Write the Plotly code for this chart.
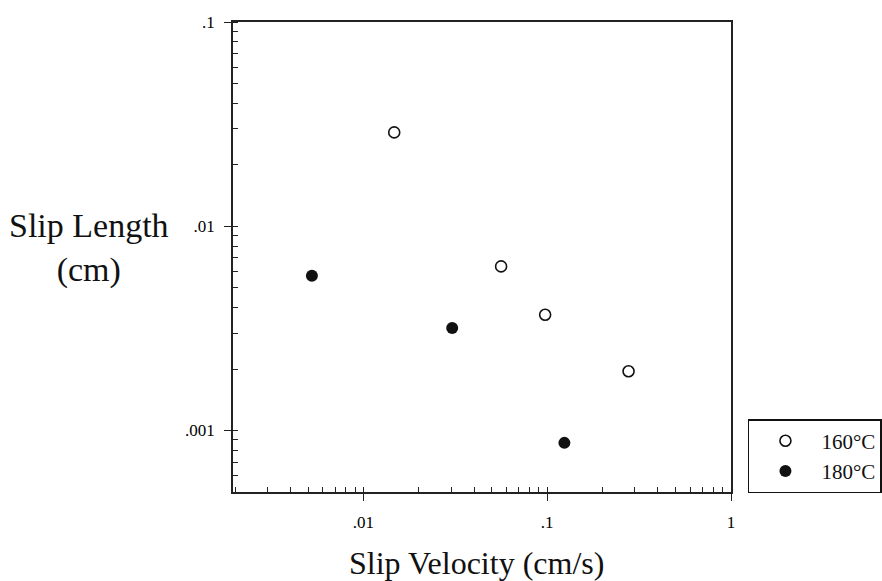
import plotly.graph_objects as go

# Slip length vs. slip velocity at two melt temperatures
velocity_160 = [0.0147, 0.0561, 0.0974, 0.277]
slip_len_160 = [0.0288, 0.00636, 0.00369, 0.00195]

velocity_180 = [0.00524, 0.0304, 0.124]
slip_len_180 = [0.00572, 0.00318, 0.00087]

series_names = ["160°C", "180°C"]

x_tickvals = [0.01, 0.1, 1]
x_ticktext = [".01", ".1", "1"]
y_tickvals = [0.001, 0.01, 0.1]
y_ticktext = [".001", ".01", ".1"]

SERIF = "Liberation Serif, Times New Roman, serif"
AXIS_COLOR = "#222222"

fig = go.Figure()

fig.add_trace(go.Scatter(
    x=velocity_160, y=slip_len_160, mode="markers", name=series_names[0],
    marker=dict(symbol="circle", size=11, color="white",
                line=dict(color="#111111", width=1.6)),
))
fig.add_trace(go.Scatter(
    x=velocity_180, y=slip_len_180, mode="markers", name=series_names[1],
    marker=dict(symbol="circle", size=12, color="#111111",
                line=dict(color="#111111", width=0)),
))

common_axis = dict(
    type="log",
    showgrid=False,
    zeroline=False,
    showline=True,
    linecolor=AXIS_COLOR,
    linewidth=1.5,
    mirror=True,
    ticks="outside",
    ticklen=7,
    tickwidth=1.3,
    tickcolor=AXIS_COLOR,
    tickmode="array",
    tickfont=dict(family=SERIF, size=17, color="#000000"),
    minor=dict(ticks="inside", ticklen=5, tickwidth=1.2,
               tickcolor=AXIS_COLOR, dtick="D1", showgrid=False),
)

fig.update_xaxes(range=[-2.71, 0.0], tickvals=x_tickvals, ticktext=x_ticktext,
                 ticklabelstandoff=7, **common_axis)
fig.update_yaxes(range=[-3.301, -1.0], tickvals=y_tickvals, ticktext=y_ticktext,
                 ticklabelstandoff=6, **common_axis)

fig.add_annotation(
    text="Slip Length<br>(cm)", xref="paper", yref="paper",
    x=-0.124, y=0.519, xanchor="right", yanchor="middle",
    showarrow=False, align="center",
    font=dict(family=SERIF, size=34, color="#111111"),
)
fig.add_annotation(
    text="Slip Velocity (cm/s)", xref="paper", yref="paper",
    x=0.488, y=-0.152, xanchor="center", yanchor="middle",
    showarrow=False,
    font=dict(family=SERIF, size=32, color="#111111"),
)

fig.update_layout(
    width=882, height=581,
    margin=dict(l=233, r=151, t=22, b=89, autoexpand=False),
    paper_bgcolor="white",
    plot_bgcolor="white",
    showlegend=True,
    legend=dict(
        x=1.034, y=0.155, xanchor="left", yanchor="top",
        bgcolor="white", bordercolor="#111111", borderwidth=1.5,
        font=dict(family=SERIF, size=21, color="#111111"),
        itemwidth=62,
    ),
)

fig.write_html("out.html")
